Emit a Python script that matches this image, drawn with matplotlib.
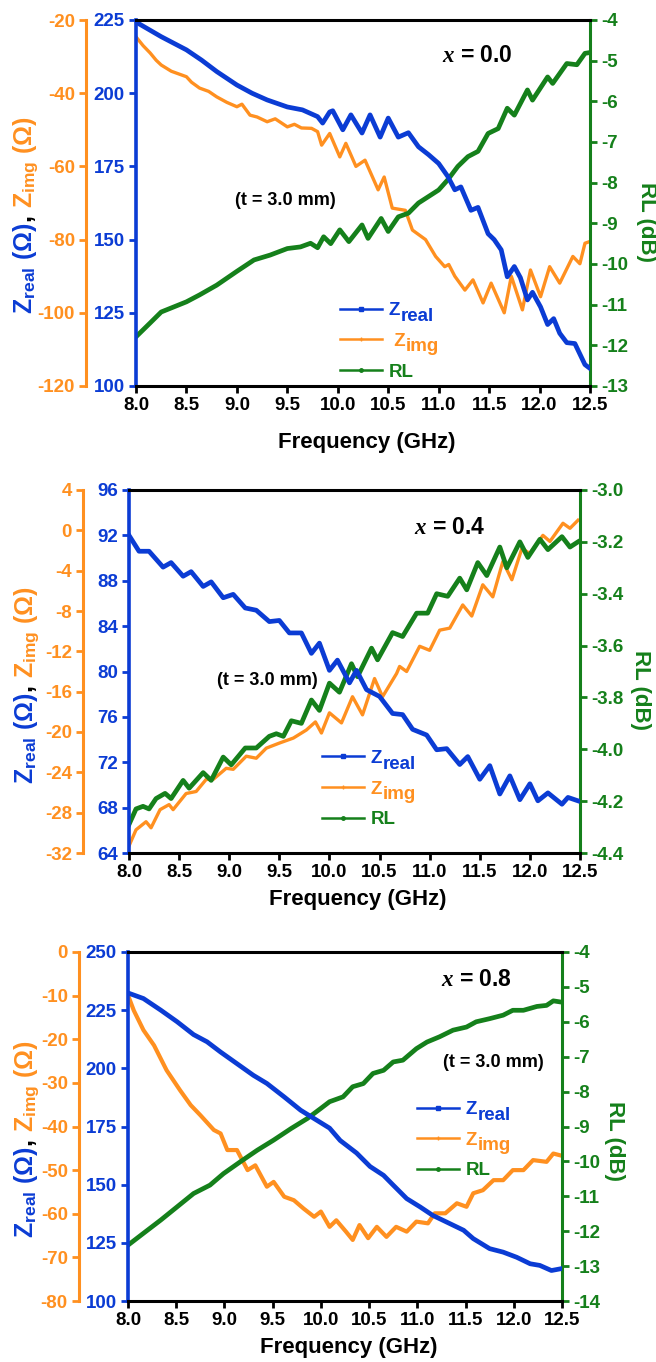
import matplotlib
matplotlib.use("Agg")
import matplotlib.pyplot as plt
from matplotlib.lines import Line2D
from matplotlib.transforms import IdentityTransform
from matplotlib.font_manager import FontProperties

plt.rcParams.update({
    "font.family": ["Liberation Sans", "DejaVu Sans"],
    "font.weight": "bold",
    "mathtext.fontset": "custom",
    "mathtext.it": "Liberation Serif:italic:bold",
    "mathtext.rm": "Liberation Sans:bold",
    "mathtext.bf": "Liberation Sans:bold",
    "axes.linewidth": 2.2,
})

BLUE = "#0B3CD4"
ORANGE = "#FF9020"
GREEN = "#15801B"

# ---------------- data: x = 0.0 ----------------
f1_real = [8.0, 8.14, 8.25, 8.5, 8.65, 8.8, 9.0, 9.15, 9.3, 9.5, 9.65, 9.8, 9.85, 9.92, 9.95,
           10.05, 10.13, 10.24, 10.32, 10.42, 10.5, 10.6, 10.7, 10.8, 10.9, 11.0, 11.09, 11.16,
           11.22, 11.32, 11.39, 11.49, 11.55, 11.62, 11.68, 11.75, 11.81, 11.88, 11.93, 12.01,
           12.08, 12.14, 12.2, 12.27, 12.35, 12.45, 12.5]
z1_real = [224.3, 221.5, 219.3, 214.8, 211.3, 207.4, 202.8, 200.0, 197.7, 195.3, 194.3, 192.0,
           189.8, 193.6, 194.0, 187.5, 192.6, 186.4, 192.6, 185.0, 191.5, 185.0, 186.5, 181.7,
           179.0, 176.0, 171.6, 167.0, 168.0, 160.0, 161.0, 152.0, 150.0, 146.5, 137.3, 140.8,
           137.0, 129.4, 132.0, 127.0, 121.0, 123.0, 118.0, 114.8, 114.5, 107.3, 106.0]
f1_img = [8.0, 8.07, 8.14, 8.2, 8.25, 8.35, 8.5, 8.55, 8.63, 8.72, 8.8, 8.9, 9.0, 9.05, 9.13,
          9.2, 9.3, 9.38, 9.5, 9.57, 9.64, 9.74, 9.8, 9.84, 9.92, 10.02, 10.08, 10.18, 10.27,
          10.4, 10.46, 10.54, 10.67, 10.74, 10.87, 10.97, 11.06, 11.1, 11.16, 11.26, 11.34,
          11.44, 11.52, 11.65, 11.72, 11.83, 11.91, 12.01, 12.1, 12.2, 12.33, 12.4, 12.45, 12.5]
z1_img = [-24.6, -27.0, -29.0, -31.0, -32.3, -34.0, -35.5, -37.0, -38.6, -39.5, -41.0, -42.5,
          -43.7, -43.0, -46.0, -46.5, -47.8, -47.0, -49.2, -48.5, -49.5, -49.6, -50.5, -54.2,
          -51.0, -57.4, -53.7, -60.0, -58.3, -66.4, -62.9, -71.4, -72.0, -77.4, -80.0, -84.6,
          -87.4, -86.8, -90.0, -93.8, -91.0, -97.3, -91.9, -100.0, -90.0, -99.2, -88.3, -95.6,
          -87.4, -91.9, -84.6, -86.6, -81.0, -80.5]
f1_rl = [8.0, 8.14, 8.25, 8.5, 8.63, 8.8, 9.0, 9.17, 9.33, 9.5, 9.63, 9.73, 9.8, 9.86, 9.93,
         10.02, 10.11, 10.24, 10.3, 10.43, 10.5, 10.6, 10.7, 10.8, 10.9, 11.0, 11.09, 11.19,
         11.29, 11.39, 11.49, 11.59, 11.68, 11.75, 11.88, 11.93, 12.08, 12.13, 12.27, 12.37,
         12.45, 12.5]
r1_rl = [-11.79, -11.45, -11.18, -10.93, -10.76, -10.52, -10.18, -9.90, -9.78, -9.62, -9.58,
         -9.49, -9.60, -9.33, -9.50, -9.16, -9.45, -9.04, -9.37, -8.88, -9.20, -8.84, -8.75,
         -8.50, -8.34, -8.18, -7.93, -7.60, -7.36, -7.23, -6.79, -6.67, -6.17, -6.34, -5.72,
         -5.97, -5.40, -5.56, -5.07, -5.10, -4.82, -4.80]

# ---------------- data: x = 0.4 ----------------
f2_real = [8.0, 8.1, 8.2, 8.34, 8.42, 8.54, 8.62, 8.74, 8.82, 8.94, 9.04, 9.16, 9.27, 9.4, 9.5,
           9.6, 9.72, 9.82, 9.9, 10.0, 10.08, 10.2, 10.27, 10.37, 10.5, 10.63, 10.73, 10.83,
           10.97, 11.07, 11.17, 11.3, 11.38, 11.5, 11.6, 11.7, 11.8, 11.9, 12.0, 12.08, 12.18,
           12.32, 12.38, 12.48]
z2_real = [92.0, 90.6, 90.6, 89.2, 89.6, 88.4, 88.8, 87.5, 87.9, 86.5, 86.8, 85.6, 85.4, 84.4,
           84.5, 83.4, 83.4, 81.6, 82.5, 80.1, 81.0, 79.0, 80.1, 78.4, 77.8, 76.3, 76.2, 74.9,
           74.4, 73.1, 73.2, 71.8, 72.5, 70.5, 71.7, 69.2, 70.8, 68.7, 70.1, 68.6, 69.3, 68.3,
           68.9, 68.6]
f2_img = [8.0, 8.07, 8.17, 8.22, 8.31, 8.4, 8.44, 8.57, 8.67, 8.77, 8.84, 8.97, 9.04, 9.17,
          9.27, 9.37, 9.5, 9.64, 9.77, 9.86, 9.92, 10.0, 10.12, 10.23, 10.33, 10.45, 10.53,
          10.67, 10.7, 10.77, 10.9, 11.0, 11.1, 11.2, 11.33, 11.42, 11.53, 11.63, 11.73, 11.82,
          11.92, 12.0, 12.13, 12.2, 12.33, 12.4, 12.48]
z2_img = [-31.3, -29.7, -28.9, -29.5, -27.7, -27.2, -27.7, -26.1, -25.9, -24.7, -24.7, -23.6,
          -23.7, -22.4, -22.6, -21.6, -21.1, -20.6, -19.8, -19.0, -20.1, -18.1, -19.1, -16.5,
          -18.3, -14.7, -16.5, -14.2, -13.5, -14.0, -11.5, -11.9, -9.9, -9.7, -7.4, -8.5, -5.4,
          -6.6, -3.1, -4.9, -1.8, -2.3, -0.5, -1.1, 0.7, 0.2, 1.0]
f2_rl = [8.0, 8.07, 8.14, 8.2, 8.27, 8.36, 8.42, 8.54, 8.6, 8.74, 8.82, 8.94, 9.02, 9.16, 9.27,
         9.4, 9.47, 9.54, 9.62, 9.72, 9.82, 9.9, 10.0, 10.1, 10.22, 10.28, 10.42, 10.48, 10.63,
         10.73, 10.87, 10.98, 11.07, 11.18, 11.3, 11.37, 11.48, 11.57, 11.7, 11.77, 11.9,
         11.98, 12.1, 12.18, 12.32, 12.4, 12.48]
r2_rl = [-4.29, -4.23, -4.22, -4.23, -4.19, -4.17, -4.19, -4.12, -4.15, -4.09, -4.12, -4.03,
         -4.06, -3.995, -3.995, -3.95, -3.94, -3.95, -3.89, -3.90, -3.81, -3.85, -3.745, -3.78,
         -3.67, -3.72, -3.61, -3.655, -3.55, -3.565, -3.475, -3.475, -3.40, -3.41, -3.34,
         -3.385, -3.28, -3.33, -3.22, -3.30, -3.20, -3.26, -3.19, -3.23, -3.18, -3.22, -3.20]

# ---------------- data: x = 0.8 ----------------
f3_real = [8.0, 8.16, 8.34, 8.51, 8.68, 8.82, 8.96, 9.13, 9.3, 9.44, 9.62, 9.79, 9.93, 10.09,
           10.2, 10.37, 10.51, 10.65, 10.75, 10.89, 11.03, 11.16, 11.3, 11.48, 11.58, 11.75,
           11.89, 12.03, 12.17, 12.27, 12.39, 12.48]
z3_real = [232.4, 230.0, 225.0, 220.0, 214.5, 211.4, 207.0, 202.0, 197.0, 193.5, 187.7, 182.0,
           178.4, 174.3, 169.0, 163.6, 157.8, 154.0, 149.8, 144.0, 140.4, 136.8, 134.0, 130.4,
           126.8, 122.5, 121.0, 118.8, 116.0, 115.3, 113.1, 113.8]
f3_img = [8.0, 8.06, 8.16, 8.27, 8.4, 8.54, 8.65, 8.75, 8.89, 8.96, 9.03, 9.13, 9.24, 9.32,
          9.44, 9.51, 9.62, 9.72, 9.82, 9.93, 10.0, 10.09, 10.16, 10.26, 10.33, 10.4, 10.49,
          10.58, 10.68, 10.78, 10.89, 10.99, 11.11, 11.18, 11.29, 11.41, 11.51, 11.58, 11.68,
          11.79, 11.89, 11.99, 12.1, 12.2, 12.34, 12.41, 12.48]
z3_img = [-9.9, -13.4, -17.9, -21.4, -27.1, -31.7, -35.1, -37.4, -40.8, -41.6, -45.4, -45.4,
          -50.0, -48.9, -53.8, -52.7, -56.1, -56.9, -58.8, -60.7, -59.5, -63.0, -61.5, -64.1,
          -66.0, -62.6, -65.6, -63.0, -65.3, -63.0, -64.1, -61.8, -62.2, -59.9, -59.9, -57.6,
          -58.4, -55.3, -54.6, -52.3, -52.3, -50.0, -50.0, -47.7, -48.1, -46.2, -46.6]
f3_rl = [8.0, 8.16, 8.34, 8.51, 8.68, 8.85, 8.99, 9.17, 9.34, 9.51, 9.69, 9.86, 10.0, 10.09,
         10.23, 10.33, 10.44, 10.54, 10.65, 10.75, 10.85, 10.99, 11.1, 11.23, 11.37, 11.51,
         11.61, 11.75, 11.89, 11.99, 12.1, 12.24, 12.34, 12.41, 12.48]
r3_rl = [-12.40, -12.06, -11.68, -11.30, -10.92, -10.68, -10.35, -10.00, -9.68, -9.39, -9.06,
         -8.77, -8.48, -8.29, -8.15, -7.86, -7.77, -7.48, -7.39, -7.15, -7.10, -6.77, -6.58,
         -6.43, -6.24, -6.15, -6.00, -5.91, -5.81, -5.67, -5.67, -5.56, -5.53, -5.40, -5.43]

x_ticks = [8.0, 8.5, 9.0, 9.5, 10.0, 10.5, 11.0, 11.5, 12.0, 12.5]
x_tick_labels = ["8.0", "8.5", "9.0", "9.5", "10.0", "10.5", "11.0", "11.5", "12.0", "12.5"]
legend_main = ["Z", "Z", "RL"]
legend_sub = ["real", "img", None]

W, H = 656, 1362
fig = plt.figure(figsize=(W / 100, H / 100), dpi=100)
LEG_FS = 13.5
SUB_FS = 13.5
TICK_FS = 13.5
pending_subs = []


def rect_px(l, r, t, b):
    return [l / W, 1 - b / H, (r - l) / W, (b - t) / H]


def vlabel(x_px, yc_px, pieces, fs):
    renderer = fig.canvas.get_renderer()
    objs = []
    lengths = []
    for s, c in pieces:
        t = fig.text(0, 0, s, color=c, fontsize=fs, rotation=90, rotation_mode="anchor",
                     ha="left", va="baseline", transform=IdentityTransform())
        bb = t.get_window_extent(renderer)
        objs.append(t)
        lengths.append(bb.height)
    total = sum(lengths)
    y = (H - yc_px) - total / 2
    for t, L in zip(objs, lengths):
        t.set_position((x_px, y))
        y += L


def panel(rect, fr, zr, fi, zi, fl, rl, real_lim, real_ticks, img_lim, img_ticks,
          rl_lim, rl_ticks, rl_fmt, img_off, img_lw, title, title_pos, tpos, leg_pos,
          img_pad, ylab_x, ylab_y, rl_x, rl_y, xlab_y):
    ax = fig.add_axes(rect)
    axi = ax.twinx()
    axr = ax.twinx()
    ax.set_zorder(3)
    ax.patch.set_visible(False)

    ax.plot(fr, zr, color=BLUE, lw=3.4, solid_joinstyle="round")
    axi.plot(fi, zi, color=ORANGE, lw=img_lw, solid_joinstyle="round")
    axr.plot(fl, rl, color=GREEN, lw=3.4, solid_joinstyle="round")

    ax.set_xlim(8.0, 12.5)
    ax.set_ylim(*real_lim)
    axi.set_ylim(*img_lim)
    axr.set_ylim(*rl_lim)
    ax.set_xticks(x_ticks)
    ax.set_xticklabels(x_tick_labels)
    ax.set_yticks(real_ticks)
    ax.set_yticklabels([str(v) for v in real_ticks])
    axi.set_yticks(img_ticks)
    axi.set_yticklabels([str(v) for v in img_ticks])
    axr.set_yticks(rl_ticks)
    axr.set_yticklabels([rl_fmt % v for v in rl_ticks])

    ax.spines["right"].set_visible(False)
    ax.spines["left"].set_color(BLUE)
    ax.spines["left"].set_linewidth(2.6)
    for s in ("top", "bottom", "right"):
        axi.spines[s].set_visible(False)
    axi.spines["left"].set_visible(True)
    axi.spines["left"].set_position(("axes", img_off))
    axi.spines["left"].set_color(ORANGE)
    axi.yaxis.set_ticks_position("left")
    axi.yaxis.set_label_position("left")
    for s in ("top", "bottom", "left"):
        axr.spines[s].set_visible(False)
    axr.spines["right"].set_color(GREEN)

    kw = dict(direction="out", length=5, width=2, labelsize=TICK_FS, pad=3)
    ax.tick_params(axis="x", colors="black", **kw)
    ax.tick_params(axis="y", colors=BLUE, **kw)
    axi.tick_params(axis="y", colors=ORANGE, **kw)
    axr.tick_params(axis="y", colors=GREEN, **kw)

    fig.text(rect[0] + rect[2] / 2 + 0.005, 1 - xlab_y / H, "Frequency (GHz)", ha="center",
             va="center", fontsize=16, color="black")

    ax.text(title_pos[0], title_pos[1], title, transform=ax.transAxes, ha="center",
            va="center", fontsize=16.5, color="black")
    ax.text(tpos[0], tpos[1], "(t = 3.0 mm)", transform=ax.transAxes, ha="center",
            va="center", fontsize=13, color="black")

    handles = [
        Line2D([], [], color=BLUE, lw=1.8, marker="s", markersize=2.5),
        Line2D([], [], color=ORANGE, lw=1.8, marker="+", markersize=3.5),
        Line2D([], [], color=GREEN, lw=1.8, marker="o", markersize=2.5),
    ]
    labels = [legend_main[0], img_pad + legend_main[1], legend_main[2]]
    leg = ax.legend(handles, labels, loc="upper left", bbox_to_anchor=leg_pos, frameon=False,
                    fontsize=LEG_FS, handlelength=2.25, handletextpad=0.35, labelspacing=0.72,
                    borderpad=0, borderaxespad=0)
    colors = (BLUE, ORANGE, GREEN)
    for txt, c, sub in zip(leg.get_texts(), colors, legend_sub):
        txt.set_color(c)
        if sub:
            pending_subs.append((txt, sub, c))

    vlabel(ylab_x, ylab_y, [(r"Z$_\mathregular{real}$ (Ω)", BLUE), (", ", "black"),
                            (r"Z$_\mathregular{img}$ (Ω)", ORANGE)], 18)
    fig.text(rl_x / W, 1 - rl_y / H, "RL (dB)", rotation=-90, ha="center", va="center",
             fontsize=16, color=GREEN)


panel(rect_px(136, 590, 20, 386), f1_real, z1_real, f1_img, z1_img, f1_rl, r1_rl,
      (100, 225), [100, 125, 150, 175, 200, 225],
      (-120, -20), [-120, -100, -80, -60, -40, -20],
      (-13, -4), [-13, -12, -11, -10, -9, -8, -7, -6, -5, -4], "%d",
      -0.110, 2.4, r"$\mathit{x}$ = 0.0", (0.751, 0.904), (0.328, 0.508), (0.449, 0.229),
      " ", 32, 215, 647, 222, 442)

panel(rect_px(129, 580, 490, 853), f2_real, z2_real, f2_img, z2_img, f2_rl, r2_rl,
      (64, 96), [64, 68, 72, 76, 80, 84, 88, 92, 96],
      (-32, 4), [-32, -28, -24, -20, -16, -12, -8, -4, 0, 4],
      (-4.4, -3.0), [-4.4, -4.2, -4.0, -3.8, -3.6, -3.4, -3.2, -3.0], "%.1f",
      -0.102, 2.4, r"$\mathit{x}$ = 0.4", (0.712, 0.898), (0.306, 0.474), (0.428, 0.284),
      "", 33, 685, 640, 690, 900)

panel(rect_px(128, 562, 952, 1301), f3_real, z3_real, f3_img, z3_img, f3_rl, r3_rl,
      (100, 250), [100, 125, 150, 175, 200, 225, 250],
      (-80, 0), [-80, -70, -60, -50, -40, -30, -20, -10, 0],
      (-14, -4), [-14, -13, -12, -11, -10, -9, -8, -7, -6, -5, -4], "%d",
      -0.113, 3.0, r"$\mathit{x}$ = 0.8", (0.802, 0.920), (0.841, 0.682), (0.666, 0.573),
      "", 33, 1139, 615, 1141, 1347)

# subscripts of the legend labels (drawn nearly full size, as in the original)
fig.canvas.draw()
renderer = fig.canvas.get_renderer()
for txt, sub, c in pending_subs:
    bb = txt.get_window_extent(renderer)
    prop = FontProperties(family=["Liberation Sans"], weight="bold", size=LEG_FS)
    _, _, lp_d = renderer.get_text_width_height_descent("lp", prop, ismath=False)
    baseline = bb.y0 + lp_d
    fig.text(bb.x1 + 0.5, baseline - 5.5, sub, color=c, fontsize=SUB_FS, ha="left",
             va="baseline", transform=IdentityTransform())

fig.savefig("out.png", dpi=100)
